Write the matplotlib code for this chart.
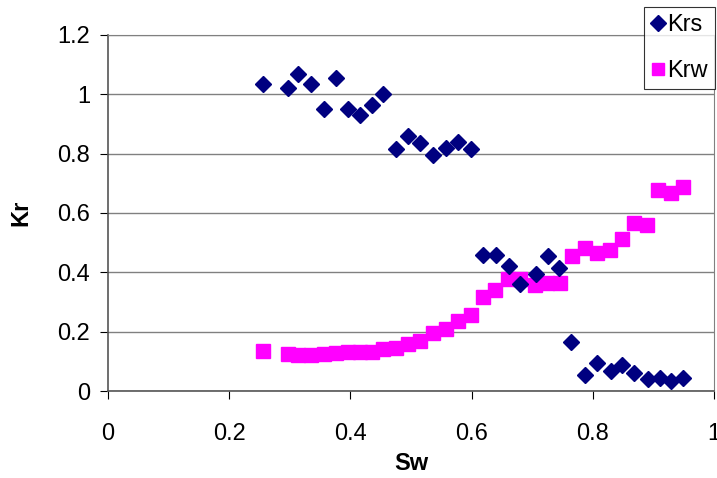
import matplotlib.pyplot as plt

plt.rcParams['font.family'] = ['Liberation Sans', 'DejaVu Sans']

# Krs points
sw_krs = [0.256, 0.297, 0.313, 0.335, 0.356, 0.376, 0.396, 0.416, 0.436, 0.454,
          0.475, 0.495, 0.515, 0.536, 0.558, 0.578, 0.599,
          0.619, 0.640, 0.662, 0.680, 0.706, 0.726, 0.744, 0.764, 0.787,
          0.807, 0.830, 0.848, 0.868, 0.891, 0.911, 0.929, 0.949]
krs = [1.035, 1.02, 1.07, 1.035, 0.95, 1.055, 0.95, 0.93, 0.965, 1.00,
       0.815, 0.86, 0.835, 0.795, 0.82, 0.84, 0.815,
       0.46, 0.46, 0.42, 0.36, 0.395, 0.455, 0.415, 0.165, 0.053,
       0.095, 0.067, 0.087, 0.061, 0.04, 0.043, 0.035, 0.043]

# Krw points
sw_krw = [0.256, 0.297, 0.313, 0.335, 0.356, 0.376, 0.396, 0.416, 0.436, 0.454,
          0.475, 0.495, 0.515, 0.536, 0.558, 0.578, 0.599,
          0.619, 0.639, 0.660, 0.680, 0.705, 0.724, 0.746, 0.766, 0.787,
          0.807, 0.828, 0.848, 0.868, 0.889, 0.908, 0.929, 0.949]
krw = [0.135, 0.125, 0.12, 0.12, 0.125, 0.128, 0.13, 0.13, 0.133, 0.14,
       0.145, 0.16, 0.17, 0.195, 0.21, 0.235, 0.255,
       0.317, 0.34, 0.377, 0.377, 0.357, 0.364, 0.364, 0.455, 0.482,
       0.465, 0.475, 0.512, 0.566, 0.56, 0.677, 0.668, 0.688]

fig = plt.figure(figsize=(7.17, 4.78), dpi=100)
ax = fig.add_axes([0.1506, 0.182, 0.8452, 0.7448])

ax.plot(sw_krw, krw, linestyle='none', marker='s', ms=10, color='#FF00FF',
        mec='#FF00FF', label='Krw', zorder=3)
ax.plot(sw_krs, krs, linestyle='none', marker='D', ms=8.5, color='#000080',
        mec='#000080', label='Krs', zorder=4)

ax.set_xlim(0, 1)
ax.set_ylim(0, 1.2)
ax.set_xticks([0, 0.2, 0.4, 0.6, 0.8, 1])
ax.set_xticklabels(['0', '0.2', '0.4', '0.6', '0.8', '1'])
ax.set_yticks([0, 0.2, 0.4, 0.6, 0.8, 1.0, 1.2])
ax.set_yticklabels(['0', '0.2', '0.4', '0.6', '0.8', '1', '1.2'])
ax.tick_params(direction='out', length=6, labelsize=17, color='black', pad=7)
ax.tick_params(axis='x', pad=17)
ax.yaxis.grid(True, color='#808080', linewidth=1)
ax.set_axisbelow(True)
for s in ['top', 'right']:
    ax.spines[s].set_color('#808080')
for s in ['left', 'bottom']:
    ax.spines[s].set_color('#555555')
    ax.spines[s].set_linewidth(1.2)

ax.set_xlabel('Sw', fontsize=17, fontweight='bold', labelpad=5)
ax.set_ylabel('Kr', fontsize=17, fontweight='bold', labelpad=18)

h, l = ax.get_legend_handles_labels()
leg = fig.legend(h[::-1], l[::-1], loc='upper left', bbox_to_anchor=(0.898, 0.985),
                 fontsize=17, frameon=True, fancybox=False, borderpad=0.3,
                 handletextpad=0.1, handlelength=0.6, labelspacing=1.0,
                 borderaxespad=0, markerscale=0.9)
leg.get_frame().set_edgecolor('black')
leg.get_frame().set_linewidth(0.8)

fig.savefig('out.png', dpi=100)
